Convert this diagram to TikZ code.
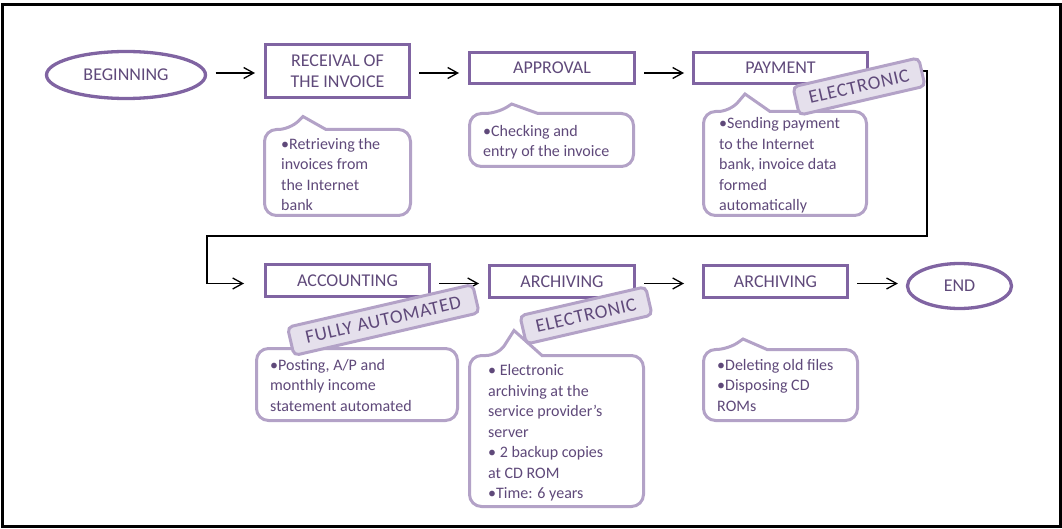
\documentclass[tikz,border=0pt]{standalone}
\usepackage{fontspec}
\setmainfont{Carlito}
\newfontfamily\tagfont[LetterSpace=4]{Carlito}
\usetikzlibrary{arrows.meta,shapes.geometric}
\definecolor{boxc}{HTML}{8064A2}
\definecolor{callc}{HTML}{B3A2C7}
\definecolor{txtc}{HTML}{5F497A}
\definecolor{tagfill}{HTML}{E5E0EC}
\begin{document}
\begin{tikzpicture}[x=1pt,y=-1pt,
  procbox/.style={draw=boxc, line width=3.3pt, text=txtc, font=\fontsize{18}{21}\selectfont, align=center, inner sep=0pt},
  termell/.style={ellipse, draw=boxc, line width=3.3pt, text=txtc, font=\fontsize{18}{21}\selectfont, inner sep=0pt},
  callout/.style={draw=callc, line width=3pt, fill=white},
  calltext/.style={text=txtc, font=\fontsize{16}{20.5}\selectfont, align=left, anchor=north west, inner sep=0pt},
  tagbox/.style={draw=callc, fill=tagfill, line width=3pt, rounded corners=5pt, text=txtc, font=\tagfont\fontsize{19}{20}\selectfont, rotate=13, inner sep=0pt, minimum height=29pt},
  arr/.style={draw=black, line width=1.3pt, -{Straight Barb[length=10pt,width=11pt]}}
]
\useasboundingbox (0,0) rectangle (1062,529);
\draw[black, line width=2.8pt] (2.2,4.5) rectangle (1060.8,526.5);

% callouts
\draw[callout] (337,215.5) [rounded corners=12pt] -- (264.5,215.5) -- (264.5,129.5) -- (290,129.5) [sharp corners] -- (303,116.5) -- (326,129.5) [rounded corners=12pt] -- (410.5,129.5) -- (410.5,215.5) -- cycle;
\draw[callout] (550,166.5) [rounded corners=12pt] -- (469.5,166.5) -- (469.5,113.5) -- (497,113.5) [sharp corners] -- (511.7,104) -- (538,113.5) [rounded corners=12pt] -- (633.5,113.5) -- (633.5,166.5) -- cycle;
\draw[callout] (785,215.5) [rounded corners=12pt] -- (703.5,215.5) -- (703.5,111.5) -- (730,111.5) [sharp corners] -- (745,94) -- (770,111.5) [rounded corners=12pt] -- (866.5,111.5) -- (866.5,215.5) -- cycle;
\draw[callout, rounded corners=12pt] (256.5,348.5) rectangle (457.5,420.5);
\draw[callout] (556,506.5) [rounded corners=12pt] -- (469.5,506.5) -- (469.5,355.5) -- (498,355.5) [sharp corners] -- (514,330.5) -- (542,355.5) [rounded corners=12pt] -- (643.5,355.5) -- (643.5,506.5) -- cycle;
\draw[callout] (780,420.5) [rounded corners=12pt] -- (703.5,420.5) -- (703.5,349.5) -- (728,349.5) [sharp corners] -- (743,339) -- (767,349.5) [rounded corners=12pt] -- (857.5,349.5) -- (857.5,420.5) -- cycle;

\node[calltext] (t1) at (281,134.7) {\strut•Retrieving the\\invoices from\\the Internet\\bank};
\node[calltext] (t2) at (483,121.6) {\strut•Checking and\\entry of the invoice};
\node[calltext] (t3) at (719,114) {\strut•Sending payment\\to the Internet\\bank, invoice data\\formed\\automatically};
\node[calltext] (t4) at (270,355.7) {\strut•Posting, A/P and\\monthly income\\statement automated};
\node[calltext] (t5) at (488,361.3) {\strut• Electronic\\archiving at the\\service provider’s\\server\\• 2 backup copies\\at CD ROM\\•Time: 6 years};
\node[calltext] (t6) at (717,355.7) {\strut•Deleting old files\\•Disposing CD\\ROMs};

% main nodes
\node[termell, minimum width=159pt, minimum height=47pt] (beg) at (126,75) {BEGINNING};
\node[procbox, minimum width=143.7pt, minimum height=52.7pt] (rec) at (337.5,71) {RECEIVAL OF\\THE INVOICE};
\node[procbox, minimum width=164.7pt, minimum height=30.7pt] (appr) at (552,68) {APPROVAL};
\node[procbox, minimum width=173.7pt, minimum height=30.7pt] (pay) at (780.5,68) {PAYMENT};
\node[procbox, minimum width=163.7pt, minimum height=31.7pt] (acc) at (347.5,280.5) {ACCOUNTING};
\node[procbox, minimum width=144.7pt, minimum height=31.7pt] (arc1) at (562,281.5) {ARCHIVING};
\node[procbox, minimum width=143.7pt, minimum height=31.7pt] (arc2) at (775.5,281.5) {ARCHIVING};
\node[termell, minimum width=104pt, minimum height=45pt] (endn) at (959.5,286) {END};

% connectors
\coordinate (r1) at (0,73);
\coordinate (r2) at (0,283.5);
\coordinate (ca) at (927,71);
\coordinate (cb) at (927,236);
\coordinate (cc) at (207,236);
\coordinate (cd) at (207,283.5);
\draw[arr, shorten <=8.5pt, shorten >=9pt] (beg.east |- r1) -- (rec.west |- r1);
\draw[arr, shorten <=8pt, shorten >=9pt] (rec.east |- r1) -- (appr.west |- r1);
\draw[arr, shorten <=8pt, shorten >=8pt] (appr.east |- r1) -- (pay.west |- r1);
\draw[arr, shorten >=20pt] (pay.east |- ca) -- (ca) -- (cb) -- (cc) -- (cd) -- (acc.west |- cd);
\draw[arr, shorten <=8pt, shorten >=9pt] (acc.east |- r2) -- (arc1.west |- r2);
\draw[arr, shorten <=8pt, shorten >=18pt] (arc1.east |- r2) -- (arc2.west |- r2);
\draw[arr, shorten <=8pt, shorten >=8pt] (arc2.east |- r2) -- (endn.west |- r2);

% tags
\node[tagbox, minimum width=129pt] (tag1) at (859,86.5) {ELECTRONIC};
\node[tagbox, minimum width=190pt] (tag2) at (383.3,320) {FULLY AUTOMATED};
\node[tagbox, minimum width=129pt] (tag3) at (586,315.4) {ELECTRONIC};
\end{tikzpicture}
\end{document}
